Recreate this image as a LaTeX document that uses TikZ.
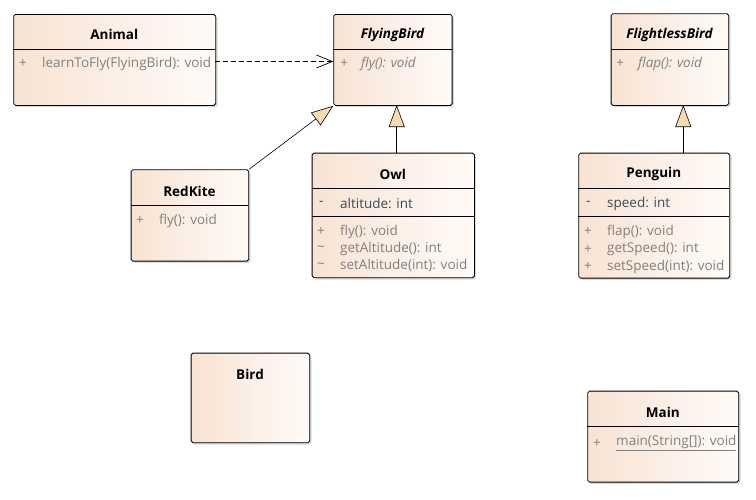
\documentclass[tikz,border=0pt]{standalone}
\usepackage{fontspec}
\setmainfont{Open Sans}
\usetikzlibrary{shadows,arrows.meta}
\definecolor{peachL}{HTML}{F8E3D3}
\definecolor{peachR}{HTML}{FFFBF8}
\definecolor{opgray}{HTML}{808080}
\definecolor{attrc}{HTML}{3C4A55}
\definecolor{tan}{HTML}{F8DAB0}
\newcommand{\fsz}{\fontsize{13.5}{15}\selectfont}
\begin{document}
\begin{tikzpicture}[x=1pt,y=-1pt,
  cls/.style={draw=black,line width=0.8pt,rounded corners=1.8pt,left color=peachL,right color=peachR,
    drop shadow={shadow xshift=1.8pt,shadow yshift=-1.8pt,fill=black!25,opacity=0.6},
    anchor=north west,inner sep=0pt},
  ttl/.style={font=\fsz\bfseries,anchor=center,inner sep=0pt,yshift=-0.8pt},
  vis/.style={font=\fsz,text=opgray,anchor=west,inner sep=0pt,yshift=-1.5pt},
  op/.style={font=\fsz,text=opgray,anchor=west,inner sep=0pt,yshift=-1.5pt},
  attr/.style={font=\fsz,text=attrc,anchor=west,inner sep=0pt,yshift=-1.5pt},
  sep/.style={line width=0.8pt},
  gen/.style={line width=0.6pt,-{Triangle[open,length=22pt,width=16pt,fill=tan]}},
  dep/.style={line width=0.6pt,dash pattern=on 5pt off 3pt,-{Straight Barb[length=16pt,width=13pt,line width=0.7pt]}}
]
\useasboundingbox (0,0) rectangle (756,499);

% Animal
\node[cls,minimum width=202pt,minimum height=91pt] (animal) at (13.3,14) {};
\draw[sep] (13.3,49.3) -- (215.3,49.3);
\node[ttl] (animalT) at (114.3,34) {Animal};
\node[vis] (animalV) at (19,62) {+};
\node[op] (animalO) at (42,62) {learnToFly(FlyingBird): void};

% FlyingBird
\node[cls,minimum width=118.4pt,minimum height=91pt] (flying) at (333.3,14) {};
\draw[sep] (333.3,49.3) -- (451.7,49.3);
\node[ttl,font=\fsz\bfseries\itshape] (flyingT) at (392.5,34) {FlyingBird};
\node[vis,font=\fsz\itshape] (flyingV) at (340,62) {+};
\node[op,font=\fsz\itshape] (flyingO) at (361,62) {fly(): void};

% FlightlessBird
\node[cls,minimum width=117.6pt,minimum height=91.7pt] (flightless) at (610.7,13.3) {};
\draw[sep] (610.7,49.3) -- (728.3,49.3);
\node[ttl,font=\fsz\bfseries\itshape] (flightlessT) at (669.5,34) {FlightlessBird};
\node[vis,font=\fsz\itshape] (flightlessV) at (616,62) {+};
\node[op,font=\fsz\itshape] (flightlessO) at (638,62) {flap(): void};

% RedKite
\node[cls,minimum width=117.6pt,minimum height=91.4pt] (redkite) at (130.7,169.3) {};
\draw[sep] (130.7,205.3) -- (248.3,205.3);
\node[ttl] (redkiteT) at (189.5,190.7) {RedKite};
\node[vis] (redkiteV) at (136,219) {+};
\node[op] (redkiteO) at (159,219) {fly(): void};

% Owl
\node[cls,minimum width=162.3pt,minimum height=124.6pt] (owl) at (311.7,152.7) {};
\draw[sep] (311.7,188.3) -- (474,188.3);
\draw[sep] (311.7,216.3) -- (474,216.3);
\node[ttl] (owlT) at (392.8,173.3) {Owl};
\node[attr] (owlV1) at (319,202.3) {-};
\node[attr] (owlA) at (340,202.3) {altitude: int};
\node[vis] (owlV2) at (317,230) {+};
\node[op] (owlO1) at (340,230) {fly(): void};
\node[vis] (owlV3) at (317,247.3) {\textasciitilde};
\node[op] (owlO2) at (340,247.3) {getAltitude(): int};
\node[vis] (owlV4) at (317,264.3) {\textasciitilde};
\node[op] (owlO3) at (340,264.3) {setAltitude(int): void};

% Penguin
\node[cls,minimum width=151pt,minimum height=125pt] (penguin) at (578.3,152.7) {};
\draw[sep] (578.3,188.7) -- (729.3,188.7);
\draw[sep] (578.3,216) -- (729.3,216);
\node[ttl] (penguinT) at (653.8,173.3) {Penguin};
\node[attr] (penguinV1) at (586,202.3) {-};
\node[attr] (penguinA) at (607,202.3) {speed: int};
\node[vis] (penguinV2) at (584,230) {+};
\node[op] (penguinO1) at (607,230) {flap(): void};
\node[vis] (penguinV3) at (584,247.7) {+};
\node[op] (penguinO2) at (607,247.7) {getSpeed(): int};
\node[vis] (penguinV4) at (584,265) {+};
\node[op] (penguinO3) at (607,265) {setSpeed(int): void};

% Bird
\node[cls,minimum width=118.6pt,minimum height=89.6pt] (bird) at (190.7,352.7) {};
\node[ttl] (birdT) at (250,373.3) {Bird};

% Main
\node[cls,minimum width=151pt,minimum height=91pt] (main) at (587.3,390.7) {};
\draw[sep] (587.3,426) -- (738.3,426);
\node[ttl] (mainT) at (662.8,411.7) {Main};
\node[vis] (mainV) at (593,441.7) {+};
\node[op] (mainO) at (616,441.7) {\underline{main(String[]): void}};

% Connectors
\coordinate (depS) at (215.3,61.5);
\coordinate (depE) at (333.3,61.5);
\draw[dep] (depS) -- (depE);
\draw[gen] (redkite.north east) -- (flying.south west);
\coordinate (owlTop) at (396.7,152.7);
\coordinate (flyBot) at (396.7,105);
\draw[gen] (owlTop) -- (flyBot);
\coordinate (pengTop) at (683.3,152.7);
\coordinate (flBot) at (683.3,105);
\draw[gen] (pengTop) -- (flBot);
\end{tikzpicture}
\end{document}
